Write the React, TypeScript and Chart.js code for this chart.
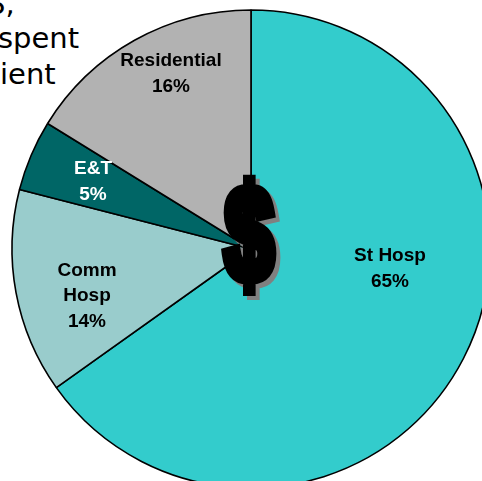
import React, { useEffect, useRef } from "react";
import { Chart, registerables } from "chart.js";

Chart.register(...registerables);

const categories = ["St Hosp", "Comm Hosp", "E&T", "Residential"];
const shares = [65.15, 13.85, 4.8, 16.2];
const sliceColors = ["#33CCCC", "#99CCCC", "#006666", "#B2B2B2"];
const labelColors = ["#000000", "#000000", "#FFFFFF", "#000000"];
const labelLines = [["St Hosp", "65%"], ["Comm", "Hosp", "14%"], ["E&T", "5%"], ["Residential", "16%"]];
const labelCenters = [[390, 269], [87, 296], [93, 182], [171, 74]];
const backgroundLines = ["S,", "spent", "ient"];

const annotate = {
  id: "annotate",
  afterDatasetsDraw(chart: any) {
    const ctx = chart.ctx;
    ctx.save();
    ctx.textAlign = "center";
    ctx.textBaseline = "middle";
    ctx.font = 'bold 19px "Liberation Sans", Arial, sans-serif';
    labelLines.forEach((lines, i) => {
      ctx.fillStyle = labelColors[i];
      const [cx, cy] = labelCenters[i];
      lines.forEach((t, j) => {
        ctx.fillText(t, cx, cy + (j - (lines.length - 1) / 2) * 25.5);
      });
    });
    const drawDollar = (x: number, y: number, color: string) => {
      ctx.save();
      ctx.translate(x, y);
      ctx.scale(0.66, 1);
      ctx.font = 'bold 134px "Liberation Sans", Arial, sans-serif';
      ctx.fillStyle = color;
      ctx.strokeStyle = color;
      ctx.lineWidth = 12;
      ctx.lineJoin = "miter";
      ctx.strokeText("$", 0, 0);
      ctx.fillText("$", 0, 0);
      ctx.restore();
    };
    drawDollar(253, 247, "#808080");
    drawDollar(249, 243, "#000000");
    ctx.restore();
  },
};

export default function App() {
  const ref = useRef<HTMLCanvasElement>(null);
  useEffect(() => {
    const chart = new Chart(ref.current!, {
      type: "pie",
      data: {
        labels: categories,
        datasets: [
          {
            data: shares,
            backgroundColor: sliceColors,
            borderColor: "#000000",
            borderWidth: 1.6,
            borderAlign: "center",
            radius: 239,
          } as any,
        ],
      },
      options: {
        responsive: false,
        animation: false,
        layout: { padding: 0 },
        plugins: { legend: { display: false }, tooltip: { enabled: false } },
      },
      plugins: [annotate],
    });
    return () => chart.destroy();
  }, []);

  return (
    <div style={{ position: "fixed", left: 0, top: 0, width: 482, height: 481, overflow: "hidden", background: "#fff" }}>
      {backgroundLines.map((t, i) => (
        <div
          key={t}
          style={{
            position: "absolute",
            left: [-13, -2, 0][i],
            top: [-18, 16, 52][i],
            font: '29px/44px "DejaVu Sans", sans-serif',
            color: "#000",
            whiteSpace: "nowrap",
          }}
        >
          {t}
        </div>
      ))}
      <canvas ref={ref} width={502} height={498} style={{ position: "absolute", left: 0, top: 0, display: "block" }} />
    </div>
  );
}
